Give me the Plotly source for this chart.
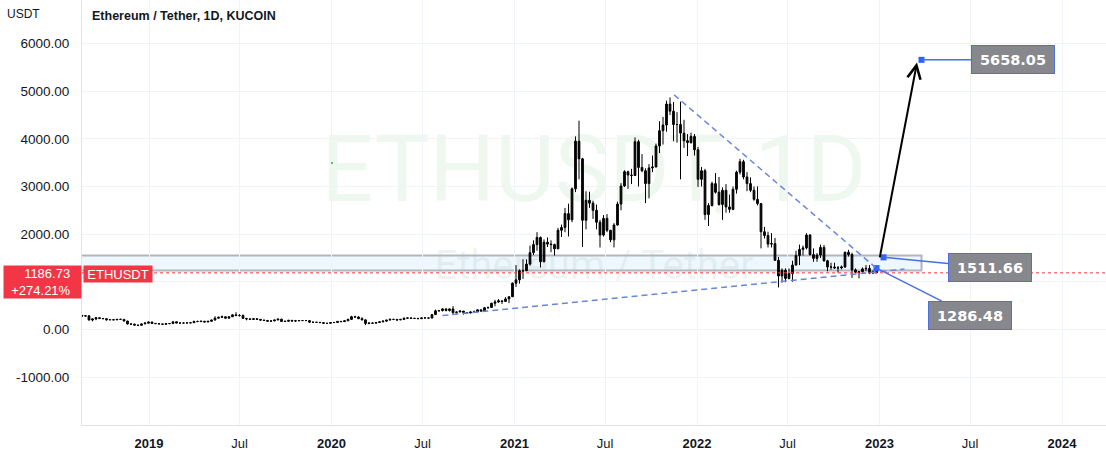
import plotly.graph_objects as go
import pandas as pd

# ---------------- data (weekly OHLC) ----------------
first_open = 295
close_2018 = [280, 285, 196, 220, 245, 230, 225, 200, 205, 200, 210, 210, 175, 115, 110, 90, 85, 115, 130, 155]
high_2018 = [300, 300, 295, 225, 250, 250, 235, 230, 212, 210, 215, 225, 215, 180, 125, 120, 95, 125, 158, 162]
low_2018 = [265, 270, 190, 168, 193, 215, 215, 185, 195, 195, 195, 205, 170, 100, 102, 86, 82, 84, 112, 128]

close_2019 = [125, 120, 115, 107, 120, 122, 160, 133, 133, 133, 136, 140, 165,
              163, 172, 155, 170, 195, 235, 255, 265, 235, 265, 305, 290, 290,
              230, 220, 210, 222, 211, 195, 188, 172, 178, 197, 215, 165, 170,
              190, 175, 180, 185, 185, 185, 150, 150, 148, 142, 127, 127, 143]
high_2019 = [160, 130, 122, 118, 122, 126, 165, 162, 140, 138, 141, 143, 185,
             185, 177, 175, 172, 205, 275, 265, 290, 270, 272, 316, 360, 320,
             315, 240, 230, 235, 235, 215, 200, 190, 182, 200, 225, 220, 182,
             198, 192, 198, 192, 195, 190, 188, 160, 152, 150, 145, 135, 145]
low_2019 = [118, 115, 112, 102, 104, 118, 120, 128, 125, 128, 132, 130, 138,
            160, 158, 148, 152, 165, 190, 230, 240, 225, 230, 260, 285, 270,
            220, 190, 205, 205, 205, 180, 180, 165, 168, 175, 195, 155, 160,
            165, 172, 155, 175, 180, 177, 140, 140, 142, 140, 116, 124, 126]

close_2020 = [145, 168, 162, 180, 210, 265, 260, 225, 200, 125, 133, 130, 145,
              158, 172, 195, 210, 210, 200, 210, 235, 240, 232, 230, 225, 240,
              240, 238, 310, 390, 395, 430, 395, 430, 355, 365, 385, 355, 345,
              365, 365, 410, 385, 455, 460, 550, 575, 600, 585, 640, 685, 970]
high_2020 = [150, 175, 172, 185, 225, 285, 285, 278, 255, 205, 145, 145, 150,
             175, 190, 198, 228, 218, 210, 215, 245, 250, 250, 238, 242, 245,
             248, 243, 320, 415, 400, 445, 440, 440, 488, 372, 392, 385, 365,
             375, 395, 420, 415, 465, 480, 555, 620, 635, 600, 675, 695, 985]
low_2020 = [135, 143, 155, 160, 178, 208, 245, 215, 195, 90, 108, 125, 126,
            140, 150, 168, 190, 195, 175, 192, 195, 225, 225, 222, 220, 222,
            234, 230, 236, 305, 370, 375, 380, 375, 310, 330, 360, 310, 335,
            335, 360, 365, 375, 375, 430, 455, 485, 560, 535, 575, 550, 680]

close_2021 = [1040, 1230, 1230, 1370, 1610, 1780, 1930, 1420, 1830, 1790, 1780, 1690, 2080,
              2140, 2430, 2300, 2950, 3950, 3580, 2290, 2710, 2650, 2500, 2250, 1980, 2330,
              2080, 1880, 2190, 2630, 3010, 3310, 3240, 3230, 3940, 3400, 3330, 3060, 3390,
              3410, 3850, 4170, 4290, 4730, 4580, 4300, 4300, 4120, 3960, 3920, 4050, 3770]
high_2021 = [1350, 1260, 1470, 1470, 1760, 1870, 2040, 1950, 1890, 1930, 1870, 1800, 2130,
             2200, 2550, 2640, 2980, 4050, 4380, 3600, 2900, 2890, 2700, 2620, 2300, 2400,
             2420, 2090, 2230, 2680, 3070, 3340, 3330, 3370, 4030, 3980, 3680, 3380, 3470,
             3650, 3900, 4370, 4460, 4800, 4870, 4770, 4560, 4780, 4400, 4100, 4130, 4100]
low_2021 = [890, 960, 1060, 1240, 1340, 1560, 1650, 1300, 1410, 1730, 1620, 1550, 1690,
            1940, 2040, 1950, 2250, 2880, 3150, 1730, 2100, 2550, 2320, 2100, 1720, 1950,
            2040, 1830, 1720, 2180, 2500, 2990, 2950, 3050, 3220, 3000, 3300, 2650, 2750,
            3300, 3400, 3700, 3880, 4150, 4500, 3950, 3920, 3150, 3810, 3640, 3900, 3650]

close_2022 = [3150, 3330, 2410, 2600, 3060, 2880, 2620, 2920, 2570, 2520, 2940, 3300, 3520,
              3200, 3060, 2920, 2730, 2640, 2050, 1970, 1790, 1800, 1450, 1120, 1240, 1070,
              1170, 1350, 1550, 1680, 1710, 1980, 1570, 1490, 1560, 1720, 1440, 1310, 1310,
              1290, 1290, 1310, 1620, 1570, 1250, 1200, 1210, 1270, 1280, 1185, 1220, 1186.73]
high_2022 = [3830, 3410, 3370, 2650, 3100, 3280, 3200, 2980, 3050, 2830, 3000, 3330, 3580,
             3560, 3300, 3190, 3000, 3000, 2650, 2150, 2050, 2020, 1920, 1520, 1280, 1280,
             1280, 1440, 1650, 1780, 1760, 2020, 2000, 1700, 1600, 1780, 1770, 1460, 1400,
             1400, 1330, 1340, 1630, 1670, 1610, 1280, 1220, 1300, 1350, 1350, 1230, 1225]
low_2022 = [2990, 3000, 2300, 2170, 2580, 2850, 2600, 2300, 2450, 2450, 2500, 2850, 3250,
            3150, 2900, 2880, 2700, 2600, 1700, 1910, 1720, 1720, 1440, 880, 980, 990,
            1050, 1000, 1340, 1350, 1550, 1680, 1550, 1420, 1420, 1500, 1420, 1220, 1250,
            1270, 1190, 1260, 1290, 1530, 1080, 1180, 1070, 1170, 1220, 1160, 1160, 1180]

close = close_2018 + close_2019 + close_2020 + close_2021 + close_2022
high = high_2018 + high_2019 + high_2020 + high_2021 + high_2022
low = low_2018 + low_2019 + low_2020 + low_2021 + low_2022
open_ = [first_open] + close[:-1]
dates = pd.date_range("2018-08-20", periods=len(close), freq="7D")

last_price = 1186.73
change_text = "+274.21%"

# drawing points and labels
point_x = ["2022-12-26", "2023-01-09", "2023-03-26"]
point_y = [1286.48, 1511.66, 5658.05]
arrow_start = ("2023-01-01", 1480)
arrow_end = ("2023-03-17", 5600)
lower_trend_x = ["2020-08-10", "2023-02-20"]
lower_trend_y = [290, 1265]
upper_trend_x = ["2021-11-16", "2022-12-24"]
upper_trend_y = [4926, 1300]
box_x = ["2018-01-01", "2023-03-26"]
box_y = [1238, 1553]
green_dot = ("2020-01-02", 3494)

# the 1000.00 label is hidden behind the price label in the reference
y_ticks = [-1000, 0, 1000, 2000, 3000, 4000, 5000, 6000]
y_labels = ["-1000.00", "0.00", "", "2000.00", "3000.00", "4000.00", "5000.00", "6000.00"]
x_ticks = ["2019-01-01", "2019-07-01", "2020-01-01", "2020-07-01", "2021-01-01", "2021-07-01",
           "2022-01-01", "2022-07-01", "2023-01-01", "2023-07-01", "2024-01-01"]
x_labels = ["<b>2019</b>", "Jul", "<b>2020</b>", "Jul", "<b>2021</b>", "Jul",
            "<b>2022</b>", "Jul", "<b>2023</b>", "Jul", "<b>2024</b>"]

RED = "#f23645"
BLUE = "#2962ff"
DASH_BLUE = "#6a86dc"
TXT = "#131722"
GRID = "#f0f3fa"

fig = go.Figure()
fig.add_trace(go.Candlestick(
    x=dates, open=open_, high=high, low=low, close=close,
    increasing=dict(line=dict(color="#000000", width=1), fillcolor="#000000"),
    decreasing=dict(line=dict(color="#000000", width=1), fillcolor="#000000"),
    whiskerwidth=0, hoverinfo="skip", showlegend=False,
))
fig.add_trace(go.Scatter(
    x=[green_dot[0]], y=[green_dot[1]], mode="markers",
    marker=dict(size=2, color="#66bb6a", symbol="square"),
    hoverinfo="skip", showlegend=False,
))
fig.add_trace(go.Scatter(
    x=point_x, y=point_y, mode="markers",
    marker=dict(size=6, color=BLUE, symbol="square"),
    hoverinfo="skip", showlegend=False,
))

shapes = [
    dict(type="rect", xref="paper", yref="paper", x0=0, x1=1, y0=0.55, y1=0.683,
         line=dict(width=0), fillcolor="rgba(0,0,0,0)", layer="below",
         label=dict(text="ETHUSDT, 1D", textposition="middle center",
                    font=dict(size=92, color="rgba(76,175,80,0.09)", family="Roboto"))),
    dict(type="rect", xref="paper", yref="paper", x0=0, x1=1, y0=0.35, y1=0.417,
         line=dict(width=0), fillcolor="rgba(0,0,0,0)", layer="below",
         label=dict(text="Ethereum / Tether", textposition="middle center",
                    font=dict(size=40, color="rgba(90,140,95,0.09)", family="Roboto"))),
    dict(type="rect", xref="x", yref="y", x0=box_x[0], x1=box_x[1], y0=box_y[0], y1=box_y[1],
         line=dict(color="#b2b5be", width=2), fillcolor="rgba(33,150,243,0.08)", layer="below"),
    dict(type="line", xref="paper", yref="y", x0=0, x1=1, y0=last_price, y1=last_price,
         line=dict(color=RED, width=1, dash="dot")),
    dict(type="line", xref="x", yref="y", x0=lower_trend_x[0], x1=lower_trend_x[1],
         y0=lower_trend_y[0], y1=lower_trend_y[1],
         line=dict(color=DASH_BLUE, width=1.5, dash="6px,4px")),
    dict(type="line", xref="x", yref="y", x0=upper_trend_x[0], x1=upper_trend_x[1],
         y0=upper_trend_y[0], y1=upper_trend_y[1],
         line=dict(color=DASH_BLUE, width=1.5, dash="6px,4px")),
]

label_font = dict(family="DejaVu Sans", size=14.5, color="#ffffff")
label_offsets = [(93, 47), (106, 10), (91, 0)]
annotations = []
for px, py, (ax, ay) in zip(point_x, point_y, label_offsets):
    annotations.append(dict(
        x=px, y=py, xref="x", yref="y", text="<b>%.2f</b>" % py,
        showarrow=True, arrowhead=0, arrowwidth=1.5, arrowcolor="#4a6fe0",
        ax=ax, ay=ay, standoff=0, font=label_font,
        bgcolor="#87878e", bordercolor="#4a6fe0", borderwidth=1, borderpad=3,
        width=76, height=21,
    ))

annotations += [
    dict(x=arrow_end[0], y=arrow_end[1], ax=arrow_start[0], ay=arrow_start[1],
         xref="x", yref="y", axref="x", ayref="y", text="", showarrow=True,
         arrowhead=5, arrowsize=1.3, arrowwidth=2, arrowcolor="#000000", standoff=0),
    dict(x=0, y=1, xref="paper", yref="paper", xanchor="left", yanchor="middle",
         xshift=8, yshift=-16, showarrow=False,
         text="<b>Ethereum / Tether, 1D, KUCOIN</b>",
         font=dict(family="Liberation Sans", size=12.5, color=TXT)),
    dict(x=0, y=1, xref="paper", yref="paper", xanchor="right", yanchor="middle",
         xshift=-40, yshift=-14, showarrow=False, text="USDT",
         font=dict(family="Liberation Sans", size=12, color=TXT)),
    dict(x=0, y=last_price, xref="paper", yref="y", xanchor="right", yanchor="top",
         yshift=8, showarrow=False,
         text="%.2f&nbsp;&nbsp;&nbsp;<br>%s&nbsp;&nbsp;&nbsp;" % (last_price, change_text),
         align="right", bgcolor=RED, borderpad=0, width=77, height=32,
         font=dict(family="Liberation Sans", size=13, color="#ffffff")),
    dict(x=0, y=last_price, xref="paper", yref="y", xanchor="left", yanchor="top",
         xshift=1, yshift=8, showarrow=False, text="ETHUSDT",
         bgcolor=RED, borderpad=0, width=68, height=16,
         font=dict(family="Liberation Sans", size=13, color="#ffffff")),
]

fig.update_layout(
    width=1106, height=453,
    margin=dict(l=82, r=0, t=0, b=28),
    paper_bgcolor="#ffffff", plot_bgcolor="#ffffff",
    shapes=shapes, annotations=annotations,
    showlegend=False,
    xaxis=dict(
        type="date", range=["2018-08-20", "2024-03-29"],
        tickvals=x_ticks, ticktext=x_labels,
        showgrid=True, gridcolor=GRID, gridwidth=1,
        showline=True, linecolor="#e0e3eb", linewidth=1,
        zeroline=False, ticks="", ticklabelstandoff=6,
        tickfont=dict(family="Liberation Sans", size=13, color=TXT),
        rangeslider=dict(visible=False), fixedrange=True,
    ),
    yaxis=dict(
        range=[-2007, 6914], tickvals=y_ticks, ticktext=y_labels,
        showgrid=True, gridcolor=GRID, gridwidth=1,
        showline=True, linecolor="#e0e3eb", linewidth=1,
        zeroline=False, ticks="", ticklabelstandoff=9,
        tickfont=dict(family="Liberation Sans", size=13.5, color=TXT),
        fixedrange=True,
    ),
)

fig.write_html("out.html")
